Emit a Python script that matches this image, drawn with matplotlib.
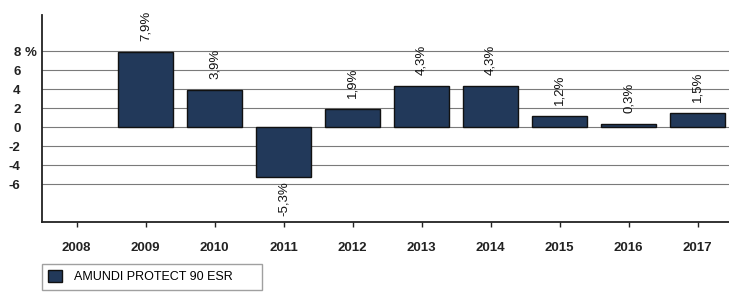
import numpy as np
import matplotlib
matplotlib.use("Agg")
import matplotlib.pyplot as plt
from matplotlib.patches import Patch

plt.rcParams['font.family'] = ['Liberation Sans', 'DejaVu Sans']

years = ['2008', '2009', '2010', '2011', '2012', '2013', '2014', '2015', '2016', '2017']
returns = [np.nan, 7.9, 3.9, -5.3, 1.9, 4.3, 4.3, 1.2, 0.3, 1.5]
yticks = [-6, -4, -2, 0, 2, 4, 6, 8]
series_name = 'AMUNDI PROTECT 90 ESR'

bar_color = '#22395a'

W, H = 729, 293
fig = plt.figure(figsize=(W / 100, H / 100), dpi=100)
left = 42 / W
bottom = (H - 222) / H
top = (H - 15) / H
ax = fig.add_axes([left, bottom, 1.0 - left, top - bottom])

x = np.arange(len(years))
ax.bar(x, returns, width=0.8, color=bar_color, edgecolor='#111111', linewidth=1.0, zorder=3)

for xi, v in zip(x, returns):
    if np.isnan(v):
        continue
    txt = f"{v:.1f}%".replace('.', ',')
    if v >= 0:
        ax.annotate(txt, (xi, v), xytext=(0, 8), textcoords='offset points',
                    ha='center', va='bottom', rotation=90, fontsize=9.5, color='#111111')
    else:
        ax.annotate(txt, (xi, v), xytext=(0, -3), textcoords='offset points',
                    ha='center', va='top', rotation=90, fontsize=9.5, color='#111111')

ax.set_xlim(-0.5, -0.5 + (W - 42) / 69)
ax.set_ylim(-10, 11.8)
ax.set_xticks(x)
ax.set_xticklabels(years, fontsize=9.5, fontweight='bold', color='#222222')
ax.set_yticks(yticks)
ax.set_yticklabels([str(t) for t in yticks], fontsize=9.5, fontweight='bold', color='#222222')
ax.tick_params(axis='x', direction='out', length=3.5, width=1.0, pad=11, color='#222222')
ax.tick_params(axis='y', length=0, pad=15.5)

ax.annotate('%', (-0.5, 8), xytext=(-4, 0), textcoords='offset points',
            ha='right', va='center_baseline', fontsize=9.5, fontweight='bold', color='#222222')

ax.grid(axis='y', color='#7a7a7a', linewidth=0.8, zorder=0)
ax.set_axisbelow(True)
for s in ['top', 'right']:
    ax.spines[s].set_visible(False)
ax.spines['left'].set_color('#222222')
ax.spines['left'].set_linewidth(1.3)
ax.spines['bottom'].set_color('#222222')
ax.spines['bottom'].set_linewidth(1.3)

handle = Patch(facecolor=bar_color, edgecolor='#111111', linewidth=1.0)
leg = fig.legend([handle], [series_name], loc='upper left',
                 bbox_to_anchor=(left, 0, 220 / W, (H - 264) / H), mode='expand',
                 fontsize=9, frameon=True, fancybox=False, edgecolor='#888888',
                 handlelength=1.1, handleheight=1.1, handletextpad=1.0, borderpad=0.5,
                 borderaxespad=0)
leg.get_frame().set_linewidth(1.0)

fig.savefig('out.png', dpi=100)
